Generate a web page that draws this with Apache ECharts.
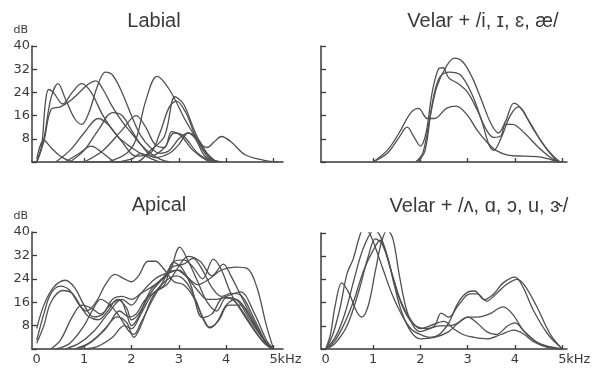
<!DOCTYPE html>
<html><head><meta charset="utf-8">
<script src="https://cdn.jsdelivr.net/npm/echarts@6/dist/echarts.min.js"></script>
<style>html,body{margin:0;padding:0;background:#fff}#c{width:602px;height:370px}</style>
</head><body><div id="c"></div>
<script>
// ---- data: [kHz, dB] pairs ----
const titles = ['Labial', 'Velar + /i, \u026a, \u025b, \u00e6/', 'Apical', 'Velar + /\u028c, \u0251, \u0254, u, \u025d/'];
const xTickValues = [1, 2, 3, 4, 5];
const xLabelValues = [0, 1, 2, 3, 4, 5];

// Labial (9 curves)
const labial1 = [[0,0],[0.1,5],[0.18,20],[0.25,25],[0.35,24],[0.55,20],[0.75,24],[0.95,27],[1.15,24],[1.4,16],[1.7,9],[2.0,5],[2.3,2],[2.6,0]];
const labial2 = [[0,0],[0.15,8],[0.3,22],[0.45,27],[0.6,22],[0.8,15],[0.95,13],[1.1,17],[1.3,27],[1.45,31],[1.6,30],[1.8,24],[2.0,16],[2.2,9],[2.4,5],[2.6,3],[2.8,4],[3.0,8],[3.2,10],[3.4,8],[3.6,3],[3.8,0]];
const labial3 = [[0,0],[0.15,7],[0.3,18],[0.5,19],[0.7,21],[0.9,24],[1.1,27],[1.25,28],[1.4,25],[1.6,19],[1.8,14],[2.0,10],[2.2,6],[2.4,3],[2.6,1],[2.8,0]];
const labial4 = [[0,1],[0.15,7.5],[0.3,5],[0.5,2],[0.8,0],[1.2,0],[1.6,0],[2.0,1],[2.2,3],[2.4,2],[2.7,5],[2.9,10],[3.1,9],[3.4,3],[3.7,0]];
const labial5 = [[0.6,0],[0.9,3],[1.15,5.5],[1.4,3],[1.7,0],[2.1,0],[2.4,4],[2.7,9],[2.92,22.5],[3.1,20],[3.3,12],[3.5,5],[3.7,1],[3.9,0]];
const labial6 = [[0.4,0],[0.7,4],[1.0,10],[1.3,15],[1.5,13],[1.8,7],[2.1,2],[2.4,3],[2.6,10],[2.8,19],[2.95,21],[3.15,17],[3.35,9],[3.6,2],[3.85,0]];
const labial7 = [[0.7,0],[1.0,4],[1.3,11],[1.6,17],[1.8,16],[2.0,11],[2.2,6],[2.5,1.5],[2.8,3],[3.0,6],[3.2,10],[3.35,8],[3.55,2],[3.8,0]];
const labial8 = [[1.0,0],[1.4,4],[1.8,11],[2.1,16],[2.3,12],[2.5,6],[2.7,5],[2.85,10.5],[3.05,9],[3.3,4],[3.6,0.5],[3.8,0]];
const labial9 = [[1.5,0],[1.9,3],[2.1,8],[2.3,21],[2.54,29.5],[2.8,25],[3.17,13.5],[3.45,6.5],[3.6,5],[3.75,7],[3.9,8.8],[4.1,7],[4.4,2.5],[4.8,0.6],[5.1,0]];

// Velar + front vowels (4 curves)
const velarF1 = [[1.0,0],[1.3,4],[1.55,10],[1.8,17],[1.96,18.5],[2.15,15],[2.3,15],[2.55,18.5],[2.76,19.3],[3.0,16],[3.2,11],[3.4,7],[3.6,4],[3.85,2.4],[4.2,2],[4.55,1.7],[4.8,0.6],[4.95,0]];
const velarF2 = [[1.0,0],[1.3,3],[1.55,8.5],[1.72,12],[1.87,8.5],[2.0,5.5],[2.12,10],[2.25,24],[2.38,32],[2.48,32.5],[2.6,29],[2.8,27],[3.0,24],[3.2,18],[3.4,11],[3.55,8.5],[3.7,9],[3.8,13],[3.95,13],[4.2,10],[4.5,5],[4.8,1],[5.0,0]];
const velarF3 = [[1.9,0],[2.05,3],[2.2,15],[2.35,26],[2.55,33],[2.72,35.8],[2.9,34.5],[3.1,29],[3.3,21],[3.5,13],[3.65,10],[3.8,14],[3.98,20.3],[4.15,18],[4.4,11],[4.7,4],[4.95,0]];
const velarF4 = [[1.95,0],[2.1,4],[2.25,20],[2.4,29],[2.6,31],[2.85,30],[3.1,23],[3.3,14],[3.45,6],[3.55,4],[3.7,8],[3.9,16],[4.08,19],[4.3,14],[4.6,6],[4.9,0]];

// Apical (9 curves)
const apical1 = [[0,7],[0.15,15],[0.35,21],[0.6,23.5],[0.8,21],[1.0,15],[1.2,11],[1.4,12],[1.6,17],[1.8,18],[2.0,17],[2.2,19],[2.5,22],[2.8,26],[3.0,27],[3.2,24],[3.4,20],[3.6,17],[3.8,17],[4.0,18],[4.3,19.5],[4.6,12],[4.85,3],[5.0,0]];
const apical2 = [[0,3],[0.15,12],[0.3,19],[0.5,21.5],[0.7,20],[0.9,15],[1.05,13],[1.25,16],[1.45,22],[1.65,25.5],[1.85,24],[2.0,23],[2.15,25],[2.35,30],[2.5,30],[2.7,27],[2.9,23],[3.1,22],[3.3,18],[3.5,11],[3.65,7.5],[3.8,9],[4.0,15],[4.2,17],[4.5,11],[4.8,3],[5.0,0]];
const apical3 = [[0,2],[0.15,8],[0.3,16],[0.55,20],[0.75,19],[0.95,14],[1.1,11],[1.3,10],[1.5,13],[1.7,17],[1.9,14],[2.0,10],[2.15,12],[2.4,19],[2.6,23],[2.8,26],[3.02,34.8],[3.2,30],[3.4,23],[3.6,16],[3.8,13],[4.0,17.5],[4.2,16],[4.5,9],[4.8,2],[5.0,0]];
const apical4 = [[0.3,0],[0.5,3],[0.75,11],[0.95,15],[1.15,14],[1.35,12],[1.55,15],[1.75,17],[1.9,12],[2.0,8],[2.15,11],[2.4,20],[2.65,24],[2.85,28],[3.1,29],[3.3,31],[3.5,27],[3.7,21],[3.9,18],[4.1,19],[4.3,18.5],[4.6,10],[4.85,2],[5.0,0]];
const apical5 = [[0.4,0],[0.7,2],[1.0,8],[1.2,14],[1.35,17],[1.55,15],[1.75,11],[1.95,6],[2.05,5],[2.2,9],[2.45,17],[2.7,24],[2.9,30],[3.1,30.5],[3.3,28],[3.5,24],[3.73,30.7],[3.9,27],[4.1,19],[4.4,11],[4.7,4],[4.95,0]];
const apical6 = [[0.6,0],[0.9,2],[1.2,6],[1.5,12],[1.8,17],[2.0,15],[2.2,19],[2.5,24],[2.75,26],[2.95,27],[3.15,25],[3.4,22],[3.65,24],[3.9,27],[4.2,28],[4.45,27.5],[4.65,21],[4.85,8],[5.0,0]];
const apical7 = [[0.8,0],[1.1,2],[1.4,6],[1.7,11],[1.9,9],[2.05,4],[2.2,8],[2.45,18],[2.7,23],[2.95,25],[3.15,23],[3.35,17],[3.55,9],[3.66,7.2],[3.85,10],[4.05,15],[4.3,15],[4.6,8],[4.85,2],[5.0,0]];
const apical8 = [[0.9,0],[1.2,3],[1.5,8],[1.75,13],[1.95,11],[2.1,12],[2.3,17],[2.55,20],[2.75,22],[2.95,27],[3.2,31.7],[3.45,30],[3.7,25],[3.94,29],[4.1,25],[4.35,17],[4.6,9],[4.85,2],[5.0,0]];
const apical9 = [[1.0,0],[1.3,1],[1.6,4],[1.85,8],[2.0,7],[2.2,12],[2.45,19],[2.7,22],[2.88,29.6],[3.05,28],[3.25,22],[3.5,10.7],[3.7,12],[3.95,17.6],[4.2,17],[4.5,10],[4.8,3],[5.0,0]];

// Velar + back vowels (5 curves)
const velarB1 = [[0,0],[0.1,5],[0.2,15],[0.34,22.8],[0.5,19],[0.65,13],[0.76,11],[0.9,15],[1.05,27],[1.18,37],[1.3,41],[1.42,38],[1.55,26],[1.7,14],[1.85,8],[2.0,6],[2.2,7],[2.4,8],[2.6,8],[2.8,9],[3.0,11],[3.2,9],[3.4,6],[3.6,5],[3.85,8],[4.0,9],[4.2,6],[4.5,2],[4.8,0.5],[5.0,0]];
const velarB2 = [[0,0],[0.15,5],[0.3,14],[0.45,26],[0.58,31],[0.7,38],[0.8,41.5],[0.92,40],[1.05,35],[1.2,28],[1.4,19],[1.6,12],[1.8,7],[2.0,5],[2.2,4],[2.4,5],[2.6,9],[2.8,16],[3.0,19.6],[3.15,20],[3.35,17],[3.55,19],[3.75,22.8],[4.0,24.8],[4.15,22],[4.4,13],[4.7,5],[5.0,0]];
const velarB3 = [[0,0],[0.2,4],[0.4,12],[0.6,24],[0.8,35],[1.03,41],[1.15,39],[1.3,32],[1.5,20],[1.7,12],[1.9,8],[2.1,7],[2.3,8],[2.44,12.4],[2.6,11],[2.8,15],[3.05,19],[3.2,19],[3.4,16.5],[3.6,19],[3.8,22],[4.05,24],[4.2,22],[4.45,15],[4.75,5],[5.0,0]];
const velarB4 = [[0,0],[0.2,3],[0.4,9],[0.6,17],[0.8,27],[1.0,34],[1.15,37.5],[1.3,32],[1.45,22],[1.6,13],[1.8,6],[2.0,3.5],[2.3,4],[2.6,6],[2.8,9],[3.0,11],[3.2,11],[3.45,12],[3.75,14.5],[3.95,12],[4.2,6],[4.5,2],[5.0,0]];
const velarB5 = [[0,0],[0.2,2],[0.45,8],[0.7,20],[0.9,32],[1.05,38],[1.2,36],[1.4,26],[1.6,16],[1.8,10],[2.0,7],[2.2,8],[2.5,9.5],[2.7,7],[2.9,5],[3.14,4],[3.4,3.5],[3.7,5],[3.98,6.5],[4.2,5],[4.4,2.4],[4.7,0.5],[5.0,0]];

const panels = [
  [labial1, labial2, labial3, labial4, labial5, labial6, labial7, labial8, labial9],
  [velarF1, velarF2, velarF3, velarF4],
  [apical1, apical2, apical3, apical4, apical5, apical6, apical7, apical8, apical9],
  [velarB1, velarB2, velarB3, velarB4, velarB5]
];

// ---- layout ----
const INK = '#3a3a3a';
const LINE = '#505050';
const TICKFONT = 'DejaVu Sans';
const TITLEFONT = 'Liberation Sans, DejaVu Sans';
const grids = [
  {left: 32, top: 46, width: 251, height: 116, xmax: 5.2},
  {left: 321, top: 46, width: 246, height: 116, xmax: 5.1},
  {left: 32, top: 232, width: 251, height: 117, xmax: 5.2},
  {left: 321, top: 233, width: 246, height: 116, xmax: 5.1}
];
const titlePos = [[154, 21.5], [483, 21.5], [159, 205.5], [479, 206.5]];

const chart = echarts.init(document.getElementById('c'), null, {renderer: 'canvas'});
const option = {
  backgroundColor: '#fff',
  animation: false,
  grid: grids.map(g => ({left: g.left, top: g.top, width: g.width, height: g.height, containLabel: false})),
  xAxis: grids.map((g, i) => ({
    gridIndex: i, type: 'value', min: -0.1, max: g.xmax,
    axisLine: {show: true, onZero: false, lineStyle: {color: INK, width: 1.5}},
    axisTick: {show: true, inside: true, length: 4, customValues: xTickValues, lineStyle: {color: INK, width: 1.3}},
    axisLabel: {show: i >= 2, customValues: xLabelValues, margin: 4, fontSize: 13, fontFamily: TICKFONT, color: INK,
      formatter: v => String(v)},
    splitLine: {show: false}
  })),
  yAxis: grids.map((g, i) => ({
    gridIndex: i, type: 'value', min: 0, max: 40, interval: 8,
    axisLine: {show: true, onZero: false, lineStyle: {color: INK, width: 1.5}},
    axisTick: {show: true, inside: true, length: 5, lineStyle: {color: INK, width: 1.3}},
    axisLabel: {show: i % 2 === 0, margin: 2, fontSize: 13, fontFamily: TICKFONT, color: INK,
      formatter: v => v === 0 ? '' : String(v)},
    splitLine: {show: false},
    name: i % 2 === 0 ? 'dB' : '', nameLocation: 'end', nameGap: 10,
    nameTextStyle: {fontSize: 11, fontFamily: TICKFONT, color: INK, align: 'right', verticalAlign: 'bottom', padding: [0, 4, 0, 0]}
  })),
  series: [],
  graphic: []
};
panels.forEach((curves, p) => {
  curves.forEach(c => option.series.push({
    type: 'line', xAxisIndex: p, yAxisIndex: p, data: c,
    smooth: 0.35, showSymbol: false, silent: true,
    lineStyle: {color: LINE, width: 1.3}
  }));
});
titles.forEach((t, i) => option.graphic.push({
  type: 'text', x: titlePos[i][0], y: titlePos[i][1], silent: true,
  style: {text: t, fill: INK, fontSize: 20, fontFamily: TITLEFONT, align: 'center', verticalAlign: 'middle'}
}));
chart.setOption(option);
// "kHz" unit after the 5 label on the bottom panels, placed from the axis scale
[2, 3].forEach(p => {
  const pt = chart.convertToPixel({xAxisIndex: p, yAxisIndex: p}, [5, 0]);
  option.graphic.push({type: 'text', x: pt[0] + 4, y: pt[1] + 11, silent: true,
    style: {text: 'kHz', fill: INK, fontSize: 13, fontFamily: TICKFONT, align: 'left', verticalAlign: 'middle'}});
});
chart.setOption({graphic: option.graphic});
</script></body></html>
